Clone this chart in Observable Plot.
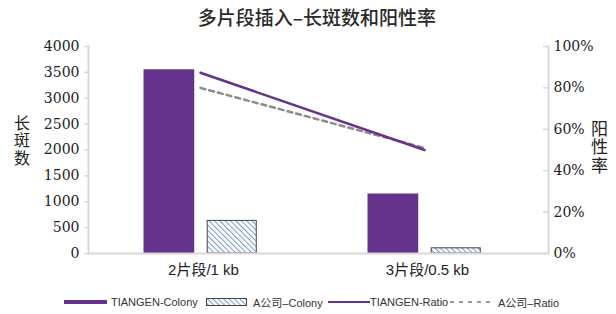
<!DOCTYPE html>
<html>
<head>
<meta charset="utf-8">
<script src="https://cdn.jsdelivr.net/npm/d3@7"></script>
<script src="https://cdn.jsdelivr.net/npm/@observablehq/plot@0.6"></script>
<style>
  body { margin: 0; background: #fff; width: 616px; height: 314px; overflow: hidden; }
  #title { height: 34px; line-height: 34px; width: 616px; box-sizing: border-box; padding-left: 18px; text-align: center;
    font-family: "Noto Sans CJK SC", sans-serif; font-weight: 500; font-size: 19px; color: #2a2a2a; }
  #chart { position: relative; width: 616px; height: 256px; }
  #chart svg { display: block; }
  .vlabel { position: absolute; writing-mode: vertical-rl; text-orientation: upright; font-family: "Noto Sans CJK SC", sans-serif;
    color: #222; line-height: 1; letter-spacing: 1.3px; }
  #legend { position: relative; height: 24px; width: 616px; font-family: "Liberation Sans", Arial, "Noto Sans CJK SC", sans-serif; font-size: 11px; color: #333; }
  .item { position: absolute; top: 0; height: 24px; display: flex; align-items: center; white-space: nowrap; }
</style>
</head>
<body>
<div id="title"></div>
<div id="chart"></div>
<div id="legend"></div>
<script>
const title = "多片段插入–长斑数和阳性率";
const categories = ["2片段/1 kb", "3片段/0.5 kb"];
const seriesNames = ["TIANGEN-Colony", "A公司–Colony", "TIANGEN-Ratio", "A公司–Ratio"];
const tiangenColony = [3550, 1150];
const aColony = [630, 100];
const tiangenRatio = [0.873, 0.50];
const aRatio = [0.80, 0.51];
const leftTicks = [0, 500, 1000, 1500, 2000, 2500, 3000, 3500, 4000];
const rightTicks = [0, 20, 40, 60, 80, 100];
const yLabelLeft = "长斑数";
const yLabelRight = "阳性率";

const purple = "#65338b";
const axisGrey = "#d9d9d9";
const serif = "'DejaVu Serif', serif";
const sans = "'Liberation Sans', Arial, 'Noto Sans CJK SC', sans-serif";
const yMax = leftTicks[leftTicks.length - 1];

document.getElementById("title").textContent = title;

const colonyT = categories.map((c, i) => ({cat: c, v: tiangenColony[i]}));
const colonyA = categories.map((c, i) => ({cat: c, v: aColony[i]}));
const ratioT = categories.map((c, i) => ({cat: c, v: tiangenRatio[i] * yMax}));
const ratioA = categories.map((c, i) => ({cat: c, v: aRatio[i] * yMax}));
const rightTickValues = rightTicks.map(p => p / 100 * yMax);

const chart = Plot.plot({
  width: 616,
  height: 256,
  marginLeft: 88,
  marginRight: 68,
  marginTop: 12,
  marginBottom: 37,
  style: {fontFamily: serif, fontSize: "14px", color: "#222", background: "#fff"},
  x: {domain: categories, range: [87.5, 536], padding: 0, label: null},
  y: {domain: [0, yMax], label: null},
  marks: [
    Plot.frame({anchor: "left", stroke: axisGrey, strokeWidth: 2}),
    Plot.frame({anchor: "right", stroke: axisGrey, strokeWidth: 2}),
    Plot.barY(colonyT, {x: "cat", y: "v", fill: purple, insetLeft: 55.5, insetRight: 117.75}),
    Plot.barY(colonyA, {x: "cat", y: "v", fill: "url(#hatch)", stroke: "#444", strokeWidth: 1, insetLeft: 119.2, insetRight: 55.75}),
    Plot.ruleY([0], {stroke: axisGrey, strokeWidth: 2}),
    Plot.lineY(ratioA, {x: "cat", y: "v", stroke: "#8c8c8c", strokeWidth: 2.5, strokeDasharray: "5,4"}),
    Plot.lineY(ratioT, {x: "cat", y: "v", stroke: purple, strokeWidth: 2.5}),
    Plot.axisY({anchor: "left", ticks: leftTicks, tickSize: 4, tickPadding: 5, stroke: axisGrey, strokeWidth: 1.5,
      tickFormat: d => String(d), fill: "#222", fontFamily: serif, fontSize: 14, label: null}),
    Plot.axisY({anchor: "right", ticks: rightTickValues, tickSize: 6, dx: -6, stroke: axisGrey, strokeWidth: 1.5,
      tickFormat: () => "", label: null}),
    Plot.axisY({anchor: "right", ticks: rightTickValues, tickSize: 0, tickPadding: 5,
      tickFormat: d => Math.round(d / yMax * 100) + "%", fill: "#222", fontFamily: serif, fontSize: 14, label: null}),
    Plot.axisX({anchor: "bottom", tickSize: 0, tickPadding: 11, dx: 3, fontFamily: sans, fontSize: 15, fill: "#222", label: null})
  ]
});

// hatch pattern
const ns = "http://www.w3.org/2000/svg";
const defs = document.createElementNS(ns, "defs");
defs.innerHTML = `<pattern id="hatch" patternUnits="userSpaceOnUse" width="3.8" height="3.8" patternTransform="rotate(-45)">
  <rect width="3.8" height="3.8" fill="#fff"/>
  <line x1="0" y1="0" x2="0" y2="3.8" stroke="#4a7cc7" stroke-width="1.5"/></pattern>`;
chart.insertBefore(defs, chart.firstChild);
const chartDiv = document.getElementById("chart");
chartDiv.appendChild(chart);

// vertical axis titles (upright stacked characters)
const lab1 = document.createElement("div");
lab1.className = "vlabel";
lab1.style.left = "14px"; lab1.style.top = "81px"; lab1.style.fontSize = "16px";
lab1.textContent = yLabelLeft;
chartDiv.appendChild(lab1);
const lab2 = document.createElement("div");
lab2.className = "vlabel";
lab2.style.left = "591px"; lab2.style.top = "86px"; lab2.style.fontSize = "17px";
lab2.textContent = yLabelRight;
chartDiv.appendChild(lab2);

// legend
const legend = document.getElementById("legend");
const swatches = [
  `<svg width="43" height="8"><rect x="0" y="2" width="43" height="4" fill="${purple}"/></svg>`,
  `<svg width="42" height="8"><rect x="0.5" y="0.5" width="40" height="7" fill="url(#hatch)" stroke="#444" stroke-width="1"/></svg>`,
  `<svg width="42" height="8"><line x1="0" y1="4" x2="42" y2="4" stroke="${purple}" stroke-width="2"/></svg>`,
  `<svg width="44" height="8"><line x1="1" y1="4" x2="44" y2="4" stroke="#999" stroke-width="2" stroke-dasharray="4,5"/></svg>`
];
const swatchLefts = [64, 206, 328, 449];
const textLefts = [111, 253, 370, 498];
seriesNames.forEach((name, i) => {
  const sw = document.createElement("div");
  sw.className = "item";
  sw.style.left = swatchLefts[i] + "px";
  sw.innerHTML = swatches[i];
  legend.appendChild(sw);
  const tx = document.createElement("div");
  tx.className = "item";
  tx.style.left = textLefts[i] + "px";
  tx.textContent = name;
  legend.appendChild(tx);
});
</script>
</body>
</html>
